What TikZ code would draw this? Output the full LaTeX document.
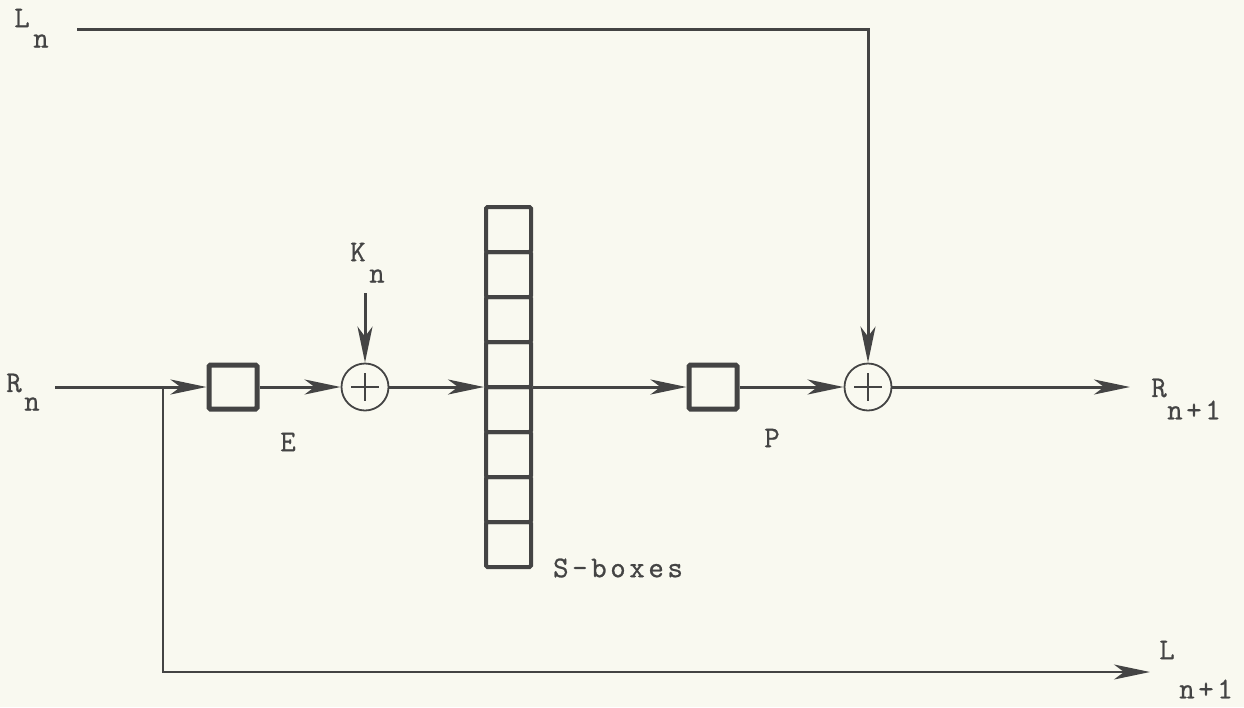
\documentclass[tikz,border=0pt]{standalone}
\usepackage{fontspec}
\newfontfamily\tw{Latin Modern Mono}[FakeBold=0.8]
\usetikzlibrary{arrows.meta}
\definecolor{ink}{RGB}{68,68,68}
\definecolor{paper}{RGB}{249,249,240}
\begin{document}
\begin{tikzpicture}[x=1pt,y=-1pt,
  wire/.style={draw=ink,line width=3pt},
  arr/.style={wire,-{Stealth[length=36pt,width=15pt,inset=10pt]}},
  boxnode/.style={draw=ink,line width=5pt,inner sep=0pt,minimum width=48pt,minimum height=44pt,rounded corners=1.5pt},
  cell/.style={draw=ink,line width=4pt,inner sep=0pt,minimum width=45pt,minimum height=45pt,rounded corners=1.5pt},
  xor/.style={draw=ink,circle,line width=1.8pt,minimum size=47pt,inner sep=0pt},
  plus/.style={draw=ink,line width=2pt},
  lbl/.style={text=ink,inner sep=0pt,font=\tw\fontsize{30}{34}\selectfont},
  spaced/.style={font=\tw\fontsize{30}{34}\selectfont\addfontfeature{LetterSpace=12}}
]
\fill[paper] (0,0) rectangle (1244,707);
\useasboundingbox (0,0) rectangle (1244,707);

% labels
\node[lbl] (Ltxt) at (22,18) {L};
\node[lbl] (Lsub) at (41,41) {n};
\node[lbl] (Rtxt) at (14,383) {R};
\node[lbl] (Rsub) at (32,404) {n};
\node[lbl] (Ktxt) at (358,252) {K};
\node[lbl] (Ksub) at (377,276) {n};
\node[lbl] (Elbl) at (288,442) {E};
\node[lbl] (Plbl) at (772,438) {P};
\node[lbl,spaced] (Slbl) at (618,568) {S-boxes};
\node[lbl] (R1txt) at (1159,388) {R};
\node[lbl,spaced] (R1sub) at (1194,410) {n+1};
\node[lbl] (L1txt) at (1167,650) {L};
\node[lbl,spaced] (L1sub) at (1206,689) {n+1};

% blocks
\node[boxnode] (E) at (233,387) {};
\node[boxnode] (P) at (713,387) {};
\node[xor] (X1) at (365,387) {};
\node[xor] (X2) at (868,387) {};
\foreach \c in {X1,X2}{
  \draw[plus] (\c.center) ++(-14,0) -- ++(28,0);
  \draw[plus] (\c.center) ++(0,-14) -- ++(0,28);
}
\foreach \i in {1,...,8}{
  \node[cell] (s\i) at (508.5,{207+22.5+45*(\i-1)}) {};
}

% coordinates
\coordinate (Lstart) at (77,29);
\coordinate (Lcorner) at (868,29);
\coordinate (Rstart) at (55,387);
\coordinate (branch) at (163,387);
\coordinate (Lend) at (1150,672);
\coordinate (Rend) at (1130,387);
\coordinate (Kstart) at (365,293);

% connectors
\draw[arr] (Lstart) -- (Lcorner) -- (X2.north);
\draw[arr] (Rstart) -- (E.west);
\draw[arr,line width=2.5pt] (branch) |- (Lend);
\draw[arr] (E.east) -- (X1.west);
\draw[arr] (Kstart) -- (X1.north);
\draw[arr] (X1.east) -- (X1.east -| s4.west);
\draw[arr] (X1.east -| s4.east) -- (P.west);
\draw[arr] (P.east) -- (X2.west);
\draw[arr] (X2.east) -- (Rend);
\end{tikzpicture}
\end{document}
